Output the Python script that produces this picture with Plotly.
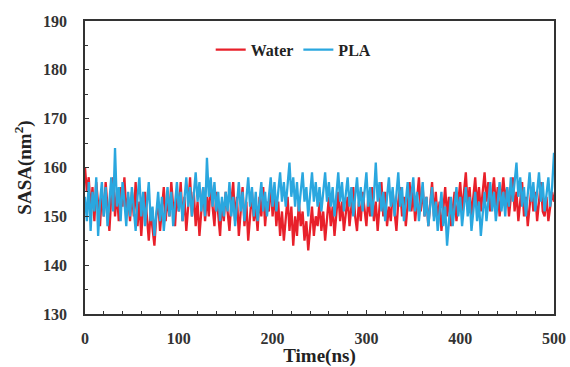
import plotly.graph_objects as go

time_ns = list(range(0, 501, 2))

water = [
    160, 155, 158, 151, 156, 149, 157, 153, 148, 155, 150, 157, 152, 147, 154, 158, 150, 155, 149, 156, 152, 158, 151, 154, 149,
    155, 150, 157, 148, 153, 146, 152, 155, 149, 145, 151, 147, 144, 150, 153, 147, 152, 156, 149, 154, 150, 157, 152, 148, 155,
    151, 157, 149, 154, 147, 152, 158, 150, 155, 148, 153, 146, 151, 156, 149, 154, 150, 157, 152, 148, 155, 151, 146, 153, 149,
    155, 150, 147, 153, 157, 149, 154, 146, 151, 156, 148, 153, 145, 150, 155, 149, 152, 147, 154, 150, 156, 148, 153, 151, 157,
    150, 155, 148, 153, 146, 151, 145, 149, 154, 147, 152, 144, 150, 146, 153, 148, 151, 145, 149, 143, 147, 152, 146, 150, 148,
    153, 147, 151, 145, 150, 154, 148, 152, 146, 151, 155, 149, 153, 147, 150, 154, 148, 152, 156, 150, 147, 153, 149, 155, 151,
    148, 154, 150, 156, 149, 153, 147, 152, 157, 150, 155, 148, 152, 149, 155, 151, 147, 153, 156, 150, 154, 148, 152, 157, 151,
    155, 149, 153, 158, 151, 156, 150, 154, 148, 152, 157, 150, 155, 149, 153, 147, 151, 156, 150, 154, 148, 152, 155, 149, 153,
    157, 151, 155, 159, 152, 156, 150, 154, 158, 152, 156, 151, 155, 159, 153, 157, 151, 155, 158, 152, 156, 150, 154, 158, 153,
    156, 150, 154, 158, 151, 155, 149, 153, 157, 150, 154, 148, 152, 156, 151, 155, 149, 153, 157, 151, 150, 154, 149, 152, 155,
    153,
]

pla = [
    154, 149, 157, 147, 155, 151, 158, 146, 153, 157, 150, 156, 148, 154, 158, 151, 164, 152, 156, 149, 157, 153, 148, 155, 150,
    156, 151, 147, 154, 158, 150, 155, 148, 153, 157, 149, 152, 146, 151, 155, 149, 154, 147, 152, 156, 150, 155, 148, 153, 157,
    151, 155, 149, 154, 158, 152, 156, 150, 155, 159, 153, 157, 151, 156, 150, 162, 154, 158, 152, 157, 151, 155, 149, 154, 150,
    155, 151, 157, 150, 154, 148, 153, 157, 151, 155, 149, 154, 158, 152, 156, 150, 155, 149, 153, 157, 151, 155, 150, 154, 158,
    152, 157, 151, 155, 159, 153, 157, 152, 156, 161, 154, 158, 152, 157, 151, 155, 159, 153, 156, 150, 155, 159, 153, 157, 152,
    156, 151, 155, 159, 153, 157, 152, 156, 150, 155, 159, 153, 157, 151, 155, 158, 152, 156, 150, 154, 158, 152, 156, 151, 155,
    159, 152, 156, 150, 154, 161, 153, 157, 151, 155, 149, 154, 158, 152, 156, 150, 154, 159, 152, 156, 149, 153, 157, 151, 155,
    158, 151, 155, 149, 153, 157, 150, 154, 148, 152, 156, 149, 153, 147, 151, 155, 148, 152, 144, 150, 154, 148, 152, 156, 150,
    154, 148, 152, 156, 150, 154, 147, 151, 155, 149, 153, 146, 151, 155, 149, 153, 157, 151, 155, 149, 153, 157, 151, 155, 150,
    156, 152, 158, 153, 157, 161, 154, 158, 152, 156, 150, 155, 159, 153, 157, 151, 155, 159, 153, 157, 151, 155, 158, 152, 156,
    163,
]

serif = "Liberation Serif"

fig = go.Figure()
fig.add_trace(go.Scatter(x=time_ns, y=water, mode="lines", name="Water",
                         line=dict(color="#E8202A", width=2.3)))
fig.add_trace(go.Scatter(x=time_ns, y=pla, mode="lines", name="PLA",
                         line=dict(color="#2AA7DF", width=2.3)))

axis_common = dict(
    showline=True, linecolor="#333333", linewidth=1.5, mirror=True,
    ticks="inside", ticklen=4, tickcolor="#333333", tickwidth=1,
    showgrid=False, zeroline=False, automargin=False,
    tickfont=dict(family=serif, size=16, color="#333333", weight="bold"),
)

fig.update_layout(
    width=570, height=367,
    margin=dict(l=85, r=16, t=21, b=53),
    plot_bgcolor="white", paper_bgcolor="white",
    font=dict(family=serif, weight="bold", color="#222222"),
    showlegend=True,
    legend=dict(orientation="h", x=0.445, xanchor="center", y=0.96, yanchor="top",
                font=dict(family=serif, size=16, color="#222222", weight="bold"),
                bgcolor="rgba(0,0,0,0)", itemwidth=30, tracegroupgap=0),
    xaxis=dict(range=[0, 500], dtick=100, tick0=0, ticklabelstandoff=9,
               minor=dict(dtick=20, ticks="inside", ticklen=3, tickcolor="#333333"),
               title=dict(text="Time(ns)", standoff=3,
                          font=dict(family=serif, size=19, color="#222222", weight="bold")),
               **axis_common),
    yaxis=dict(range=[130, 190], dtick=10, tick0=130, ticklabelstandoff=13,
               minor=dict(dtick=5, ticks="inside", ticklen=3, tickcolor="#333333"),
               title=dict(text="SASA(nm<sup>2</sup>)", standoff=6,
                          font=dict(family=serif, size=19, color="#222222", weight="bold")),
               **axis_common),
)

fig.write_html("out.html")
